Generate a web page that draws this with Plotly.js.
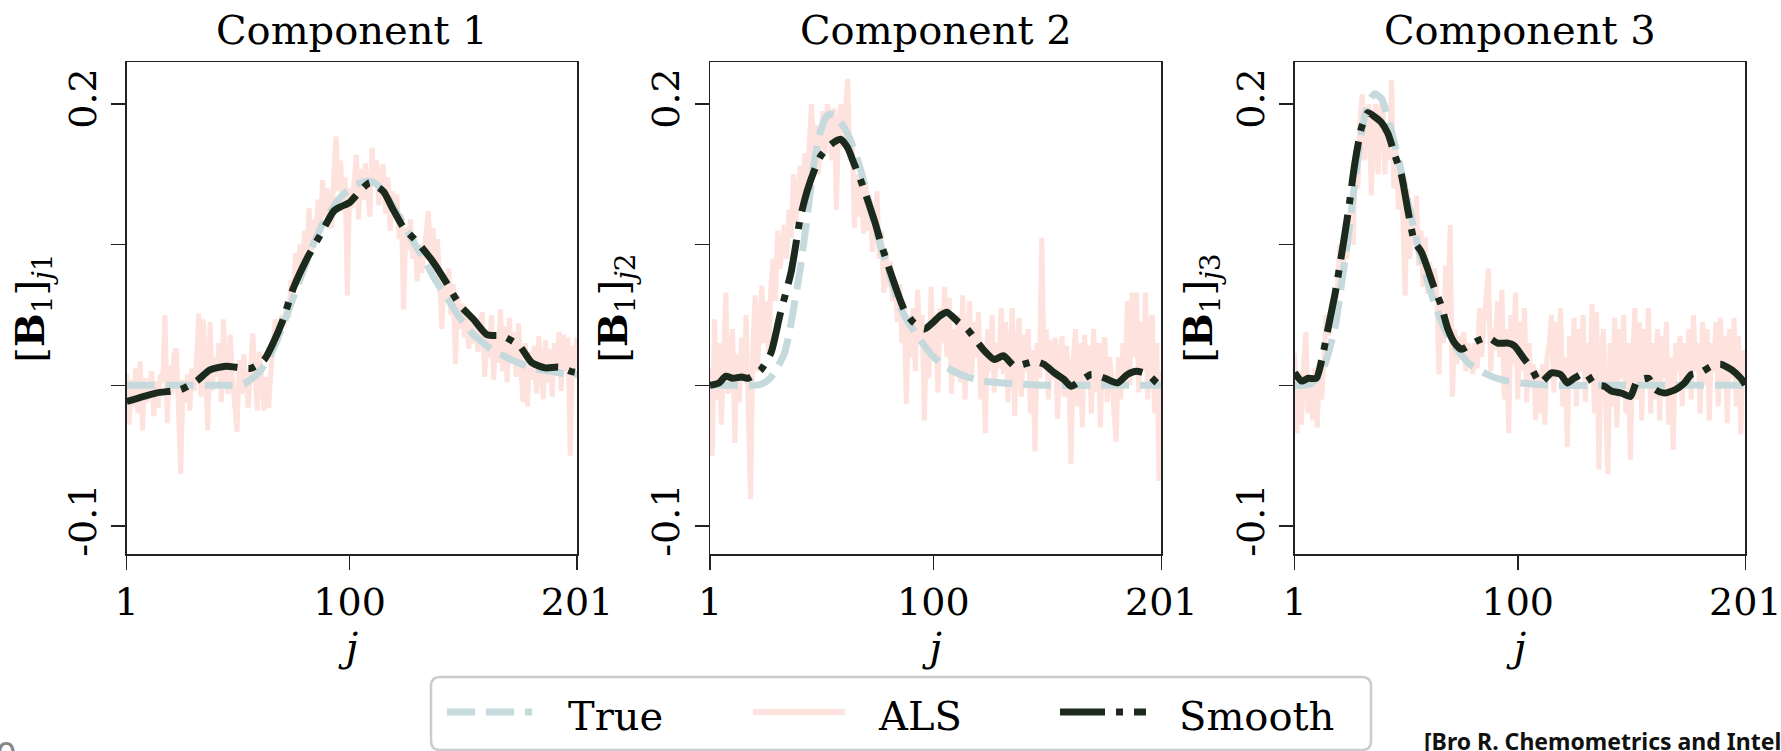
<!DOCTYPE html>
<html>
<head>
<meta charset="utf-8">
<script src="https://cdn.plot.ly/plotly-3.0.1.min.js"></script>
<style>html,body{margin:0;padding:0;background:#fff;}#chart{width:1781px;height:751px;}</style>
</head>
<body>
<div id="chart"></div>
<script>
// ---------------- DATA ----------------
const panelTitles = ["Component 1", "Component 2", "Component 3"];
const yTitles = ["[<b>B</b><sub>1</sub>]<sub><i>j</i>1</sub>", "[<b>B</b><sub>1</sub>]<sub><i>j</i>2</sub>", "[<b>B</b><sub>1</sub>]<sub><i>j</i>3</sub>"];
const xTickVals = [1, 100, 201];
const xTickText = ["1", "100", "201"];
const yTickVals = [-0.1, 0.2];
const yTickText = ["-0.1", "0.2"];
const yMinorTickVals = [0, 0.1];
const seriesNames = ["True", "ALS", "Smooth"];

// ALS estimates, j = 1..201
const als1 = [
0.008,-0.028,0.004,-0.015,0.012,-0.020,0.017,-0.032,0.005,-0.012,
-0.004,0.010,-0.022,0.003,-0.016,0.008,0.002,0.050,-0.027,0.014,
-0.006,0.022,0.026,-0.010,-0.063,0.004,-0.012,0.008,-0.018,0.012,
-0.004,0.018,0.051,-0.008,0.047,0.012,-0.032,0.045,-0.004,0.020,
0.006,0.030,-0.012,0.047,0.010,-0.006,0.036,0.004,-0.020,-0.033,
0.018,-0.006,0.022,0.002,-0.016,0.012,0.037,0.008,-0.018,0.024,
0.004,-0.018,0.006,-0.016,0.008,0.024,0.047,0.030,0.036,0.050,
0.042,0.060,0.048,0.075,0.066,0.094,0.072,0.100,0.085,0.110,
0.092,0.126,0.096,0.118,0.104,0.132,0.110,0.146,0.120,0.140,
0.128,0.112,0.150,0.177,0.138,0.160,0.124,0.148,0.064,0.140,
0.126,0.150,0.164,0.118,0.154,0.132,0.158,0.140,0.120,0.169,
0.146,0.160,0.128,0.152,0.157,0.122,0.148,0.110,0.138,0.120,
0.136,0.104,0.122,0.054,0.112,0.096,0.118,0.090,0.106,0.074,
0.100,0.080,0.094,0.108,0.124,0.086,0.112,0.090,0.104,0.075,
0.040,0.078,0.062,0.083,0.050,0.072,0.015,0.064,0.040,0.058,
0.034,0.050,0.026,0.046,0.030,0.048,0.024,0.044,0.052,0.006,
0.040,0.020,0.050,0.004,0.036,0.016,0.054,0.010,0.042,0.002,
0.048,0.020,0.038,0.006,0.044,0.016,-0.012,0.030,-0.015,0.024,
0.004,0.028,-0.006,0.035,0.010,-0.010,0.032,0.002,0.026,-0.008,
0.030,0.012,0.038,-0.004,0.036,0.010,0.034,-0.050,0.028,0.012,
0.034];
const als2 = [
0.012,-0.050,0.047,-0.010,0.030,-0.028,0.018,0.066,-0.006,0.020,
0.040,-0.041,0.022,-0.012,0.034,0.004,0.050,-0.020,-0.081,0.028,
0.064,0.010,0.045,0.071,0.030,0.060,0.024,0.071,0.090,0.060,
0.110,0.083,0.100,0.114,0.090,0.125,0.105,0.150,0.115,0.140,
0.156,0.130,0.165,0.145,0.175,0.200,0.160,0.185,0.150,0.178,
0.195,0.165,0.200,0.190,0.160,0.197,0.125,0.185,0.200,0.170,
0.190,0.218,0.160,0.175,0.112,0.150,0.120,0.145,0.108,0.145,
0.110,0.132,0.095,0.120,0.138,0.090,0.110,0.066,0.095,0.070,
0.088,0.060,0.075,0.045,0.072,0.030,0.060,-0.013,0.050,0.020,
0.055,0.010,0.068,0.030,0.050,-0.025,0.040,0.005,0.070,0.022,
0.045,-0.005,0.055,0.030,0.070,0.020,0.062,-0.006,0.040,0.010,
0.050,0.002,0.064,-0.010,0.035,0.060,0.008,0.045,0.020,0.052,
-0.010,0.030,-0.034,0.040,0.010,0.050,-0.005,0.030,0.012,0.055,
0.008,0.045,-0.012,0.030,0.055,-0.022,0.028,0.048,-0.008,0.036,
0.010,0.040,-0.020,0.025,-0.047,0.030,0.005,0.105,0.018,0.040,
-0.010,0.032,0.005,0.034,-0.024,0.020,0.035,-0.008,0.028,0.010,
-0.056,0.020,0.040,-0.015,0.030,-0.030,0.036,0.000,0.028,-0.020,
0.040,-0.005,0.030,-0.030,0.025,0.034,-0.012,0.020,0.008,-0.020,
-0.040,0.020,-0.010,0.030,0.010,0.060,0.000,0.066,0.020,0.066,
-0.005,0.045,0.010,0.066,-0.010,0.040,0.050,-0.020,0.030,-0.068,
0.010];
const als3 = [
0.023,-0.034,0.010,-0.028,0.015,0.038,-0.020,0.005,-0.025,0.012,
-0.030,0.018,-0.010,0.030,0.050,0.035,0.052,0.045,0.060,0.070,
0.100,0.075,0.095,0.090,0.105,0.130,0.100,0.165,0.140,0.190,
0.207,0.160,0.190,0.200,0.135,0.185,0.200,0.150,0.190,0.205,
0.150,0.185,0.160,0.217,0.140,0.170,0.125,0.160,0.120,0.064,
0.140,0.090,0.120,0.100,0.135,0.085,0.110,0.070,0.105,0.065,
0.088,0.060,0.083,0.070,0.008,0.060,0.030,0.085,0.050,0.114,
-0.008,0.040,0.015,0.035,0.020,0.038,0.010,0.030,0.022,0.008,
0.030,0.012,0.055,0.020,0.045,0.060,0.083,0.010,0.040,0.025,
0.060,0.020,0.068,-0.010,0.040,-0.034,0.050,0.015,0.066,-0.010,
0.045,0.010,0.055,-0.012,0.030,0.000,0.015,-0.025,0.010,-0.020,
0.015,-0.028,0.020,0.030,0.050,-0.005,0.045,0.010,0.055,-0.015,
0.020,-0.044,0.035,0.000,0.048,-0.015,0.040,0.010,0.050,-0.012,
0.030,0.005,0.058,-0.020,0.052,-0.060,0.020,0.040,-0.010,-0.063,
0.030,-0.015,0.048,-0.030,0.040,0.005,0.050,-0.020,0.030,-0.053,
0.020,0.055,-0.010,0.045,-0.025,0.040,0.000,0.055,-0.020,0.030,
-0.010,0.040,-0.025,0.035,0.005,0.045,-0.028,0.020,-0.046,0.030,
0.010,0.035,-0.015,0.030,0.000,0.040,-0.010,0.050,0.010,0.030,
-0.020,0.045,0.000,0.040,-0.025,0.030,0.010,0.045,-0.015,0.048,
0.000,0.035,-0.027,0.040,0.005,0.048,-0.015,0.035,-0.035,0.025,
0.010];

// True profiles (read at selected j)
const trueJ1 = [1,10,20,30,40,50,53,56,59,62,65,68,71,74,77,80,83,86,89,92,95,98,101,104,107,110,113,116,119,122,125,128,131,134,137,140,143,146,149,152,155,158,161,164,167,170,175,180,185,190,195,201];
const trueV1 = [0,0,0,0,0,0,0.001,0.004,0.008,0.014,0.022,0.033,0.045,0.058,0.071,0.084,0.097,0.108,0.118,0.125,0.132,0.137,0.141,0.1435,0.145,0.1448,0.1416,0.1356,0.128,0.120,0.112,0.103,0.095,0.087,0.078,0.070,0.063,0.0555,0.048,0.042,0.036,0.032,0.028,0.024,0.022,0.0196,0.016,0.013,0.011,0.0098,0.0084,0.0077];
const trueJ2 = [1,10,20,24,27,29,31,34,36,38,41,44,47,50,53,56,59,62,65,68,71,74,77,80,84,88,93,99,105,112,122,137,150,170,201];
const trueV2 = [0,0,0,0.001,0.004,0.008,0.013,0.023,0.036,0.054,0.083,0.119,0.157,0.181,0.192,0.193,0.187,0.179,0.167,0.152,0.133,0.114,0.097,0.083,0.061,0.047,0.035,0.022,0.0136,0.0077,0.003,0.001,0,0,0];
const trueJ3 = [1,5,8,11,13,16,19,21.7,24.7,27.6,30.6,33.5,36.5,39.5,42.4,45.4,48.3,51.3,54.2,57.2,60.2,63,67.5,72,78,85,92.7,101.6,115,140,170,201];
const trueV3 = [0,0,0.001,0.005,0.009,0.023,0.042,0.071,0.105,0.143,0.179,0.200,0.2074,0.204,0.190,0.1715,0.152,0.131,0.109,0.090,0.073,0.059,0.040,0.028,0.016,0.0089,0.004,0.0017,0,0,0,0];

// Smooth estimates (read at selected j)
const smJ1 = [1,14,25,32,38,45,56,62,66,70.5,75,81,87,93,96,100,104.5,109,115,119,124,130,137,143,149,155,161,168,175.5,181,187,193,198,201];
const smV1 = [-0.0115,-0.0055,-0.003,0.003,0.011,0.0136,0.012,0.018,0.030,0.047,0.069,0.090,0.107,0.124,0.127,0.130,0.138,0.144,0.138,0.126,0.112,0.102,0.088,0.073,0.057,0.047,0.036,0.035,0.028,0.016,0.0124,0.013,0.010,0.009];
const smJ2 = [1,5,8,11,15,18,23.5,28,32,37,41,44,47,50,53,56,59,62,65,68,71,74,77,80,83,87,91,96,100,103,106,111,115,118,122,127,131,136,140,145,149,153.5,158,161,165,170,176,181.5,186,190,195,199,201];
const smV2 = [0,0.0017,0.0065,0.005,0.006,0.005,0.011,0.023,0.050,0.081,0.119,0.138,0.152,0.163,0.169,0.173,0.175,0.169,0.157,0.145,0.131,0.1165,0.0998,0.085,0.071,0.054,0.045,0.040,0.045,0.0495,0.052,0.045,0.040,0.034,0.0256,0.0184,0.021,0.0136,0.015,0.017,0.015,0.009,0.004,-0.0007,0.003,0.0077,0.005,0.0017,0.0077,0.010,0.0077,0.0017,-0.0007];
const smJ3 = [1,4,7,10.6,13,16,19,22,25,27.6,30.6,33.5,36.5,39.5,42.4,45.4,48.3,51.3,54.2,57.2,60,63,66,69,72,75,78,82,86.8,91,95.7,98.6,103,106,110,115,119,122,125,130,134,138.5,141.5,146,150,153,158,161,165,170,174,177,181,186,190,195,199,201];
const smV3 = [0.009,0.003,0.005,0.005,0.018,0.042,0.066,0.095,0.126,0.157,0.183,0.194,0.191,0.187,0.179,0.164,0.150,0.124,0.102,0.095,0.083,0.069,0.057,0.040,0.030,0.0256,0.028,0.0316,0.034,0.030,0.030,0.028,0.0184,0.0124,0.0017,0.0089,0.0077,0.0017,0.005,0.009,0.0005,-0.0007,-0.004,-0.0055,-0.008,0.003,0.005,-0.003,-0.0055,-0.003,0.0017,0.0077,0.009,0.0136,0.015,0.011,0.005,0.0005];

// ---------------- STYLE / LAYOUT ----------------
const W = 1781, H = 751;
const px = v => v / W;
const py = v => 1 - v / H;
const FONT = "DejaVu Serif, serif";
const colTrue = "#c6dadd", colALS = "#fde2dd", colSmooth = "#1b2a1c";
const dashTrue = "28px,11px", dashSmooth = "45px,11px,7px,11px";

const J = [];
for (let i = 1; i <= als1.length; i++) J.push(i);

const alsAll = [als1, als2, als3];
const trueJ = [trueJ1, trueJ2, trueJ3], trueV = [trueV1, trueV2, trueV3];
const smJ = [smJ1, smJ2, smJ3], smV = [smV1, smV2, smV3];
const xDomPx = [[126.7, 577], [710, 1161.3], [1294.7, 1745.3]];
const yDomPx = [62, 554];

const traces = [];
for (let k = 0; k < 3; k++) {
  const xa = k === 0 ? "x" : "x" + (k + 1);
  const ya = k === 0 ? "y" : "y" + (k + 1);
  traces.push({x: J, y: alsAll[k], xaxis: xa, yaxis: ya, mode: "lines", name: seriesNames[1],
    line: {color: colALS, width: 5}, showlegend: false, hoverinfo: "skip"});
  traces.push({x: trueJ[k], y: trueV[k], xaxis: xa, yaxis: ya, mode: "lines", name: seriesNames[0],
    line: {color: colTrue, width: 7, dash: dashTrue, shape: "spline", smoothing: 0.6}, showlegend: false, hoverinfo: "skip"});
  traces.push({x: smJ[k], y: smV[k], xaxis: xa, yaxis: ya, mode: "lines", name: seriesNames[2],
    line: {color: colSmooth, width: 7, dash: dashSmooth, shape: "spline", smoothing: 0.6}, showlegend: false, hoverinfo: "skip"});
}

const layout = {
  width: W, height: H,
  margin: {l: 0, r: 0, t: 0, b: 0},
  paper_bgcolor: "#fff", plot_bgcolor: "#fff",
  showlegend: false,
  font: {family: FONT, color: "#000", size: 40},
  shapes: [], annotations: []
};

for (let k = 0; k < 3; k++) {
  const sx = k === 0 ? "" : String(k + 1);
  layout["xaxis" + sx] = {
    domain: [px(xDomPx[k][0]), px(xDomPx[k][1])],
    anchor: "y" + sx,
    range: [1, 201], tickvals: xTickVals, ticktext: xTickText,
    ticks: "outside", ticklen: 14, tickwidth: 1.5, tickcolor: "#222",
    ticklabeloverflow: "allow",
    showline: true, linecolor: "#222", linewidth: 1.5, mirror: true,
    showgrid: false, zeroline: false,
    tickfont: {family: FONT, size: 38, color: "#000"},
    title: {text: "<i>j</i>", font: {family: FONT, size: 40, color: "#000"}, standoff: 2}
  };
  layout["yaxis" + sx] = {
    domain: [py(yDomPx[1]), py(yDomPx[0])],
    anchor: "x" + sx,
    range: [-0.12, 0.23], tickvals: yTickVals, ticktext: yTickText, tickangle: -90,
    ticks: "outside", ticklen: 14, tickwidth: 1.5, tickcolor: "#222",
    minor: {tickvals: yMinorTickVals, ticks: "outside", ticklen: 14, tickwidth: 1.5, tickcolor: "#222", showgrid: false},
    showline: true, linecolor: "#222", linewidth: 1.5, mirror: true,
    showgrid: false, zeroline: false,
    tickfont: {family: FONT, size: 38, color: "#000"},
    title: {text: yTitles[k], font: {family: FONT, size: 40, color: "#000"}, standoff: 4}
  };
  layout.annotations.push({
    text: panelTitles[k], xref: "paper", yref: "paper",
    x: px((xDomPx[k][0] + xDomPx[k][1]) / 2), y: py(30),
    xanchor: "center", yanchor: "middle", showarrow: false,
    font: {family: FONT, size: 40, color: "#000"}
  });
}

// custom legend
function roundRect(x0, y0, x1, y1, r) {
  const P = (x, y) => px(x) + "," + py(y);
  return "M" + P(x0 + r, y0) + " L" + P(x1 - r, y0) + " Q" + P(x1, y0) + " " + P(x1, y0 + r) +
    " L" + P(x1, y1 - r) + " Q" + P(x1, y1) + " " + P(x1 - r, y1) +
    " L" + P(x0 + r, y1) + " Q" + P(x0, y1) + " " + P(x0, y1 - r) +
    " L" + P(x0, y0 + r) + " Q" + P(x0, y0) + " " + P(x0 + r, y0) + " Z";
}
layout.shapes.push({type: "path", xref: "paper", yref: "paper", path: roundRect(431, 677, 1371, 750, 9),
  line: {color: "#cccccc", width: 2.5}, fillcolor: "rgba(255,255,255,0.8)", layer: "above"});
const legY = 712;
const legItems = [
  {x0: 447, x1: 532, tx: 566, color: colTrue, dash: dashTrue, width: 7, name: seriesNames[0]},
  {x0: 753, x1: 845, tx: 876, color: colALS, dash: "solid", width: 6, name: seriesNames[1]},
  {x0: 1060, x1: 1146, tx: 1177, color: colSmooth, dash: dashSmooth, width: 7, name: seriesNames[2]}
];
legItems.forEach(it => {
  layout.shapes.push({type: "line", xref: "paper", yref: "paper", x0: px(it.x0), x1: px(it.x1), y0: py(legY), y1: py(legY),
    line: {color: it.color, width: it.width, dash: it.dash}, layer: "above"});
  layout.annotations.push({text: it.name, xref: "paper", yref: "paper", x: px(it.tx), y: py(legY + 4),
    xanchor: "left", yanchor: "middle", showarrow: false, font: {family: FONT, size: 40, color: "#000"}});
});

// extra page text
layout.annotations.push({text: "0", xref: "paper", yref: "paper", x: px(-6), y: py(728), xanchor: "left", yanchor: "top",
  showarrow: false, font: {family: "Noto Sans, sans-serif", size: 36, color: "#888"}});
layout.annotations.push({text: "<b>[Bro R. Chemometrics and Intell</b>", xref: "paper", yref: "paper", x: px(1422), y: py(741), xanchor: "left", yanchor: "middle",
  showarrow: false, font: {family: "Noto Sans, sans-serif", size: 23, color: "#111"}});

Plotly.newPlot("chart", traces, layout, {staticPlot: true, displayModeBar: false});
</script>
</body>
</html>
